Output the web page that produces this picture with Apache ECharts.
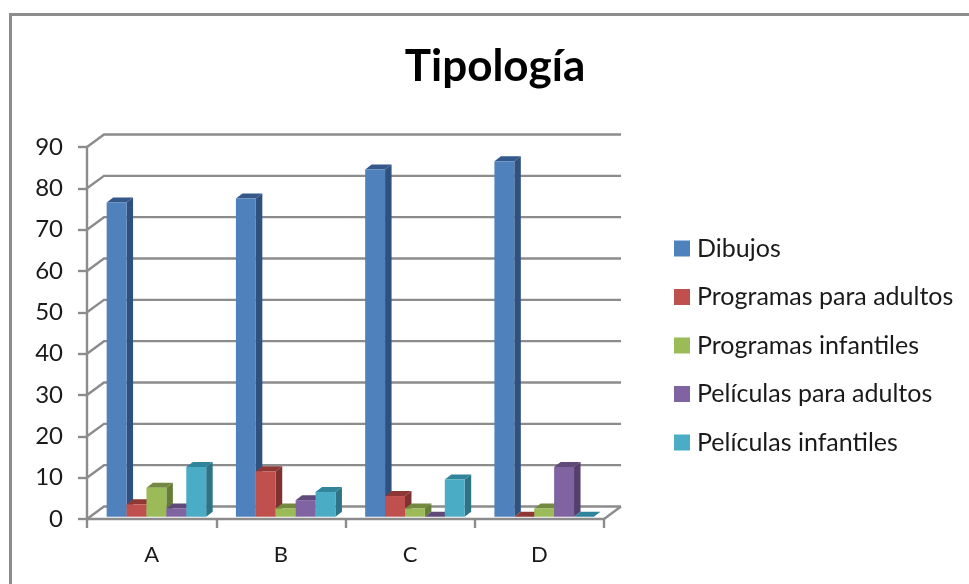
<!DOCTYPE html>
<html><head><meta charset="utf-8">
<style>html,body{margin:0;padding:0;background:#fff}#c{width:969px;height:584px}</style>
<script src="https://cdn.jsdelivr.net/npm/echarts@6/dist/echarts.min.js"></script>
</head><body><div id="c"></div>
<script>
const categories = ['A', 'B', 'C', 'D'];
const yTicks = [0, 10, 20, 30, 40, 50, 60, 70, 80, 90];
const dibujos = [76, 77, 84, 86];
const programasAdultos = [3, 11, 5, 0];
const programasInfantiles = [7, 2, 2, 2];
const peliculasAdultos = [2, 4, 0, 12];
const peliculasInfantiles = [12, 6, 9, 0];
const seriesNames = ['Dibujos', 'Programas para adultos', 'Programas infantiles', 'Películas para adultos', 'Películas infantiles'];
const seriesValues = [dibujos, programasAdultos, programasInfantiles, peliculasAdultos, peliculasInfantiles];
const palette = [
  {front:'#4f81bd', top:'#34588a', side:'#2f5180'},
  {front:'#c0504d', top:'#8e3836', side:'#7f3230'},
  {front:'#9bbb59', top:'#72893f', side:'#667d38'},
  {front:'#8064a2', top:'#5f4a79', side:'#54406d'},
  {front:'#4bacc6', top:'#30859c', side:'#2e7386'}
];
const font = 'Lato, "Open Sans", sans-serif';
const gridColor = '#8c8c8c';
const wallDx = 17, wallDy = -12.5;

const chart = echarts.init(document.getElementById('c'), null, {renderer:'canvas'});

function wallItem(params, api) {
  const v = api.value(0);
  const left = api.coord([0, v]);
  const band = api.size([1, 0])[0];
  const x0 = left[0] - band / 2, y = left[1];
  const x1 = x0 + band * categories.length;
  const children = [{
    type:'polyline',
    shape:{points:[[x0, y],[x0 + wallDx, y + wallDy],[x1 + wallDx, y + wallDy]]},
    style:{stroke:gridColor, lineWidth:2.4, fill:null}
  }];
  if (v === 0) children.push({
    type:'polyline',
    shape:{points:[[x1, y],[x1 + wallDx, y + wallDy]]},
    style:{stroke:gridColor, lineWidth:2.4, fill:null}
  });
  return {type:'group', children};
}

function barItem(seriesIdx) {
  return function (params, api) {
    const cat = api.value(0), val = api.value(1);
    const top = api.coord([cat, val]);
    const base = api.coord([cat, 0]);
    const band = api.size([1, 0])[0];
    const w = band * 0.154;
    const dx = 6.5, dy = -5, lift = -2.3;
    const xL = top[0] + 4.8 + (seriesIdx - 2.5) * w;
    const xR = xL + w;
    const yT = top[1] + lift, yB = base[1] + lift;
    const c = palette[seriesIdx];
    return {type:'group', children:[
      {type:'polygon', shape:{points:[[xR,yT],[xR+dx,yT+dy],[xR+dx,yB+dy],[xR,yB]]}, style:{fill:c.side}},
      {type:'polygon', shape:{points:[[xL,yT],[xL+dx,yT+dy],[xR+dx,yT+dy],[xR,yT]]}, style:{fill:c.top}},
      {type:'rect', shape:{x:xL, y:yT, width:w, height:yB-yT}, style:{fill:c.front}}
    ]};
  };
}

const series = [{
  type:'custom', name:'wall', silent:true, z:1, coordinateSystem:'cartesian2d',
  data: yTicks.map(v => [v]), encode:{x:-1, y:0},
  renderItem: wallItem
}];
seriesNames.forEach((name, i) => {
  series.push({
    type:'custom', name, z:2 + i, coordinateSystem:'cartesian2d',
    itemStyle:{color:palette[i].front},
    data: seriesValues[i].map((v, k) => [k, v]),
    encode:{x:0, y:1},
    renderItem: barItem(i)
  });
});

chart.setOption({
  animation:false,
  backgroundColor:'#fff',
  title:{text:'Tipología', left:490, top:40, textAlign:'center',
    textStyle:{fontFamily:font, fontSize:44, fontWeight:'bold', color:'#000'}},
  legend:{
    data:seriesNames, orient:'vertical', left:669, top:231, icon:'rect',
    itemWidth:16, itemHeight:16, itemGap:23.5, selectedMode:false,
    textStyle:{fontFamily:font, fontSize:25, color:'#1a1a1a', padding:[0,0,0,2], height:23, lineHeight:23}
  },
  grid:{left:87, right:365, top:147, bottom:65},
  xAxis:{type:'category', data:categories, boundaryGap:true,
    axisLine:{lineStyle:{color:gridColor, width:2.4}},
    axisTick:{show:true, length:9, alignWithLabel:false, lineStyle:{color:gridColor, width:2.4}},
    axisLabel:{fontFamily:font, fontSize:22, color:'#1a1a1a', margin:25},
    splitLine:{show:false}},
  yAxis:{type:'value', min:0, max:90, interval:10,
    axisLine:{show:true, lineStyle:{color:gridColor, width:2.4}},
    axisTick:{show:true, length:9, lineStyle:{color:gridColor, width:2.4}},
    axisLabel:{fontFamily:font, fontSize:24, color:'#1a1a1a', margin:24},
    splitLine:{show:false}},
  series,
  graphic:[{type:'rect', z:-1, silent:true,
    shape:{x:10.5, y:14.5, width:1000, height:700},
    style:{fill:'none', stroke:'#8c8c8c', lineWidth:3}}]
});
</script></body></html>
